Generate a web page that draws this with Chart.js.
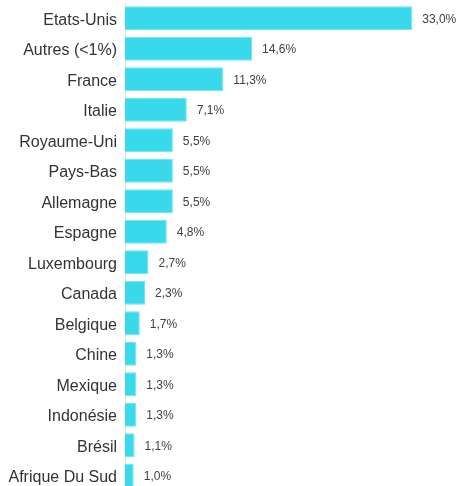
<!DOCTYPE html>
<html><head><meta charset="utf-8">
<script src="https://cdn.jsdelivr.net/npm/chart.js@4/dist/chart.umd.min.js"></script>
<style>
html,body{margin:0;padding:0;background:#fff;overflow:hidden;width:460px;height:486px;}
canvas{display:block;position:absolute;left:0;top:0;}
</style></head><body>
<canvas id="c" width="460" height="491" style="width:460px;height:491px"></canvas>
<script>
const categories = ["Etats-Unis","Autres (<1%)","France","Italie","Royaume-Uni","Pays-Bas","Allemagne","Espagne","Luxembourg","Canada","Belgique","Chine","Mexique","Indonésie","Brésil","Afrique Du Sud"];
const values = [33.0,14.6,11.3,7.1,5.5,5.5,5.5,4.8,2.7,2.3,1.7,1.3,1.3,1.3,1.1,1.0];

const fmt = v => v.toFixed(1).replace('.', ',') + '%';

const valueLabels = {
  id: 'valueLabels',
  afterDatasetsDraw(chart) {
    const ctx = chart.ctx;
    const meta = chart.getDatasetMeta(0);
    ctx.save();
    ctx.font = '12px "Liberation Sans", Arial, sans-serif';
    ctx.fillStyle = '#404040';
    ctx.textAlign = 'left';
    ctx.textBaseline = 'middle';
    meta.data.forEach((bar, i) => {
      ctx.fillText(fmt(values[i]), bar.x + 10, bar.y + 1);
    });
    ctx.restore();
  }
};

new Chart(document.getElementById('c'), {
  type: 'bar',
  data: {
    labels: categories,
    datasets: [{
      data: values,
      backgroundColor: '#38d9eb',
      borderColor: '#6fe3f1',
      borderWidth: 1,
      categoryPercentage: 1,
      barPercentage: 0.79
    }]
  },
  options: {
    indexAxis: 'y',
    responsive: false,
    maintainAspectRatio: false,
    animation: false,
    devicePixelRatio: 1,
    layout: { padding: { top: 3, right: 6, bottom: 0, left: 0 } },
    plugins: { legend: { display: false }, tooltip: { enabled: false } },
    scales: {
      x: {
        min: 0, max: 37.8,
        display: false,
        grid: { display: false }
      },
      y: {
        grid: { display: false, drawTicks: false },
        border: { display: true, color: '#e0e0e0', width: 1 },
        ticks: {
          color: '#333333',
          padding: 8,
          labelOffset: 2,
          font: { family: '"Liberation Sans", Arial, sans-serif', size: 16 }
        },
        afterFit(scale) { scale.width = 125; scale.paddingTop = 0; scale.paddingBottom = 0; }
      }
    }
  },
  plugins: [valueLabels]
});
</script>
</body></html>
